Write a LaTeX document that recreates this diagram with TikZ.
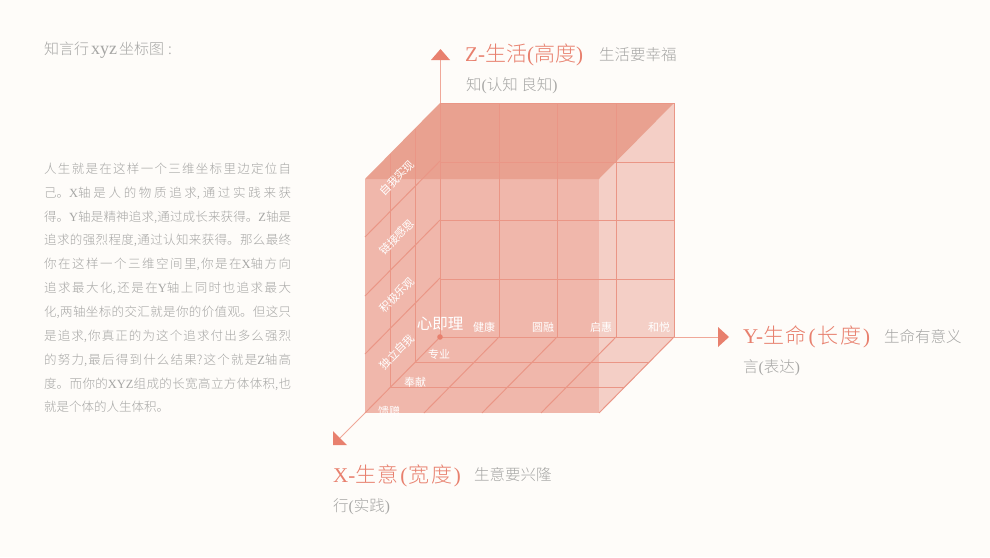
\documentclass[tikz,border=0pt]{standalone}
\usepackage{fontspec}
\setmainfont{Noto Sans CJK SC}[UprightFont=* Light]
\newfontfamily\reg{Noto Sans CJK SC}
\newfontfamily\lat{Liberation Serif}
\definecolor{bg}{HTML}{FEFCF9}
\definecolor{salmon}{HTML}{E8806E}
\definecolor{gridc}{HTML}{EA9686}
\definecolor{axisc}{HTML}{F0A899}
\definecolor{frontc}{HTML}{F0B7AB}
\definecolor{sidec}{HTML}{F4CFC6}
\definecolor{topc}{HTML}{E9A190}
\definecolor{greyt}{HTML}{A6A6A4}
\newcommand{\jline}[1]{\parbox{247pt}{\parindent=0pt\parfillskip=0pt\XeTeXlinebreaklocale "zh"\XeTeXlinebreakskip=0pt plus 5pt minus 1pt\tolerance=10000\hbadness=10000\hfuzz=5pt\leavevmode #1}}
\newcommand{\wg}{\hspace{1.8pt}}
\newcommand{\wh}{\hspace{1.5pt}}
\tikzset{
 x=1pt,y=-1pt,
 gl/.style={draw=gridc,line width=1pt},
 ax/.style={draw=axisc,line width=0.8pt},
 tip/.style={fill=salmon,draw=none},
 big/.style={text=salmon,anchor=west,inner sep=0pt,font=\fontsize{21}{21}\selectfont},
 sub/.style={text=greyt,anchor=west,inner sep=0pt,font=\fontsize{15.5}{16}\selectfont},
 body/.style={text=greyt,anchor=west,inner sep=0pt,font=\fontsize{12.5}{14}\selectfont},
 wl/.style={text=white,inner sep=0pt,font=\reg\fontsize{11}{12}\selectfont},
 wr/.style={wl,rotate=45},
}
\begin{document}
\begin{tikzpicture}
\fill[bg] (0,0) rectangle (990,557);
\useasboundingbox (0,0) rectangle (990,557);
% cube corners
\coordinate (btl) at (440,103); \coordinate (btr) at (674,103);
\coordinate (bbl) at (440,337); \coordinate (bbr) at (674,337);
\coordinate (ftl) at (365,179); \coordinate (ftr) at (599,179);
\coordinate (fbl) at (365,413); \coordinate (fbr) at (599,413);
\coordinate (ze) at (440,58); \coordinate (ye) at (720,337); \coordinate (xe) at (340,438);
% faces
\fill[sidec] (ftr)--(btr)--(bbr)--(fbr)--cycle;
\fill[frontc] (ftl) rectangle (fbr);
\fill[topc] (btl)--(btr)--(ftr)--(ftl)--cycle;
% axes
\draw[ax] (btl)--(ze);
\draw[ax] (bbr)--(ye);
\draw[ax] (fbl)--(xe);
\fill[tip] (431,60)--(440.5,49)--(450,60)--cycle;
\fill[tip] (718,327)--(729,337)--(718,347)--cycle;
\fill[tip] (333,431)--(347,445)--(333,445)--cycle;
% back wall grid
\foreach \x in {440,499,557,616,674} \draw[gl] (\x,103)--(\x,337);
\foreach \y in {103,162,220,279,337} \draw[gl] (440,\y)--(674,\y);
% left wall
\draw[gl] (390,154)--(390,387);
\draw[gl] (415,129)--(415,362);
\foreach \y in {237,296,354,413} \draw[gl] (365,\y)--++(75,-76);
% floor
\draw[gl] (415,362)--(649,362);
\draw[gl] (390,387)--(624,387);
\foreach \x in {499,557,616,674} \draw[gl] (\x,337)--++(-75,76);
\fill[salmon] (440,337) circle (2.8);
% wall labels
\node[wr] (a1) at (397,178) {自我实现};
\node[wr] (a2) at (397,237) {链接感恩};
\node[wr] (a3) at (397,295) {积极乐观};
\node[wr] (a4) at (397,352) {独立自我};
\node[wl] (b1) at (484,327) {健康};
\node[wl] (b2) at (543,327) {圆融};
\node[wl] (b3) at (601,327) {启惠};
\node[wl] (b4) at (659,327) {和悦};
\node[wl,font=\reg\fontsize{15.5}{16}\selectfont] (o) at (440,324) {心即理};
\node[wl] (c1) at (439,354) {专业};
\node[wl] (c2) at (415,382) {奉献};
\node[wl] (c3) at (389,411) {馈赠};
% axis labels
\node[big] (zt) at (465,55) {{\lat Z-}生活{\lat (}高度{\lat )}};
\node[sub] (zs) at (599,55) {生活要幸福};
\node[sub] (zk) at (466,86) {知{\lat (}认知 良知{\lat )}};
\node[big] (yt) at (743,337) {{\lat Y-}生\wg 命\wg{\lat (}\wg 长\wg 度\wg{\lat )}};
\node[sub] (ys) at (884,337) {生命有意义};
\node[sub] (yk) at (743,368) {言{\lat (}表达{\lat )}};
\node[big] (xt) at (333,476) {{\lat X-}生\wh 意\wh{\lat (}\wh 宽\wh 度\wh{\lat )}};
\node[sub] (xs) at (474,475) {生意要兴隆};
\node[sub] (xk) at (333,507) {行{\lat (}实践{\lat )}};
% left text
\node[sub,font=\fontsize{15}{16}\selectfont] (title) at (44,50) {知言行\makebox[30pt]{\lat\fontsize{18}{18}\selectfont xyz}坐标图\hspace{4pt}:};
\node[body] (l1) at (44,169) {\jline{人生就是在这样一个三维坐标里边定位自}};
\node[body] (l2) at (44,193) {\jline{己。{\lat X}轴是人的物质追求,通过实践来获}};
\node[body] (l3) at (44,217) {\jline{得。{\lat Y}轴是精神追求,通过成长来获得。{\lat Z}轴是}};
\node[body] (l4) at (44,240) {\jline{追求的强烈程度,通过认知来获得。那么最终}};
\node[body] (l5) at (44,264) {\jline{你在这样一个三维空间里,你是在{\lat X}轴方向}};
\node[body] (l6) at (44,288) {\jline{追求最大化,还是在{\lat Y}轴上同时也追求最大}};
\node[body] (l7) at (44,312) {\jline{化,两轴坐标的交汇就是你的价值观。但这只}};
\node[body] (l8) at (44,336) {\jline{是追求,你真正的为这个追求付出多么强烈}};
\node[body] (l9) at (44,360) {\jline{的努力,最后得到什么结果?这个就是{\lat Z}轴高}};
\node[body] (l10) at (44,384) {\jline{度。而你的{\lat XYZ}组成的长宽高立方体体积,也}};
\node[body] (l11) at (44,407) {就是个体的人生体积。};
\end{tikzpicture}
\end{document}
